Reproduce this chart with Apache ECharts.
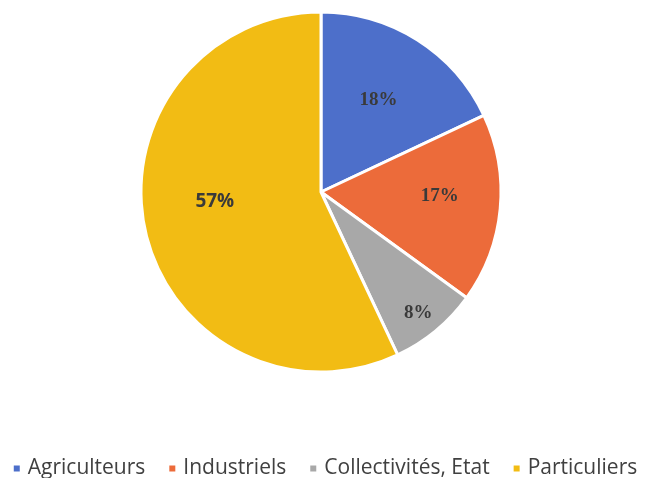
<!DOCTYPE html>
<html><head><meta charset="utf-8">
<script src="https://cdn.jsdelivr.net/npm/echarts@6/dist/echarts.min.js"></script>
<style>html,body{margin:0;padding:0;background:#fff}#c{width:649px;height:478px}</style>
</head><body><div id="c"></div>
<script>
const categories = ['Agriculteurs', 'Industriels', 'Collectivités, Etat', 'Particuliers'];
const values = [18, 17, 8, 57];
const colors = ['#4D6FCA', '#EC6B3A', '#A8A8A8', '#F2BC14'];
const labelFonts = ['Liberation Serif', 'Liberation Serif', 'Liberation Serif', 'Open Sans'];
// label placement (fraction of radius, offset from pie centre)
const labelOffsets = [[0.32, -0.51], [0.66, 0.02], [0.54, 0.67], [-0.59, 0.055]];

const cx = 321, cy = 192, R = 180;

const chart = echarts.init(document.getElementById('c'));
chart.setOption({
  animation: false,
  color: colors,
  legend: {
    top: 453, left: 'center',
    icon: 'rect', itemWidth: 8, itemHeight: 8, itemGap: 22,
    textStyle: { fontSize: 21, color: '#404040', fontFamily: 'Open Sans', padding: [0, 0, 0, 2] },
    data: categories
  },
  series: [{
    type: 'pie',
    center: [cx, cy], radius: R,
    startAngle: 90, clockwise: true,
    itemStyle: { borderColor: '#fff', borderWidth: 3 },
    emphasis: { disabled: true },
    label: {
      position: 'inside',
      formatter: '{c}%',
      fontSize: 19, fontWeight: 'bold', color: '#3a3a3a'
    },
    labelLine: { show: false },
    labelLayout: function (p) {
      const o = labelOffsets[p.dataIndex];
      return { x: cx + o[0] * R, y: cy + o[1] * R, align: 'center', verticalAlign: 'middle' };
    },
    data: categories.map((n, i) => ({ name: n, value: values[i], label: { fontFamily: labelFonts[i] } }))
  }]
});
</script></body></html>
